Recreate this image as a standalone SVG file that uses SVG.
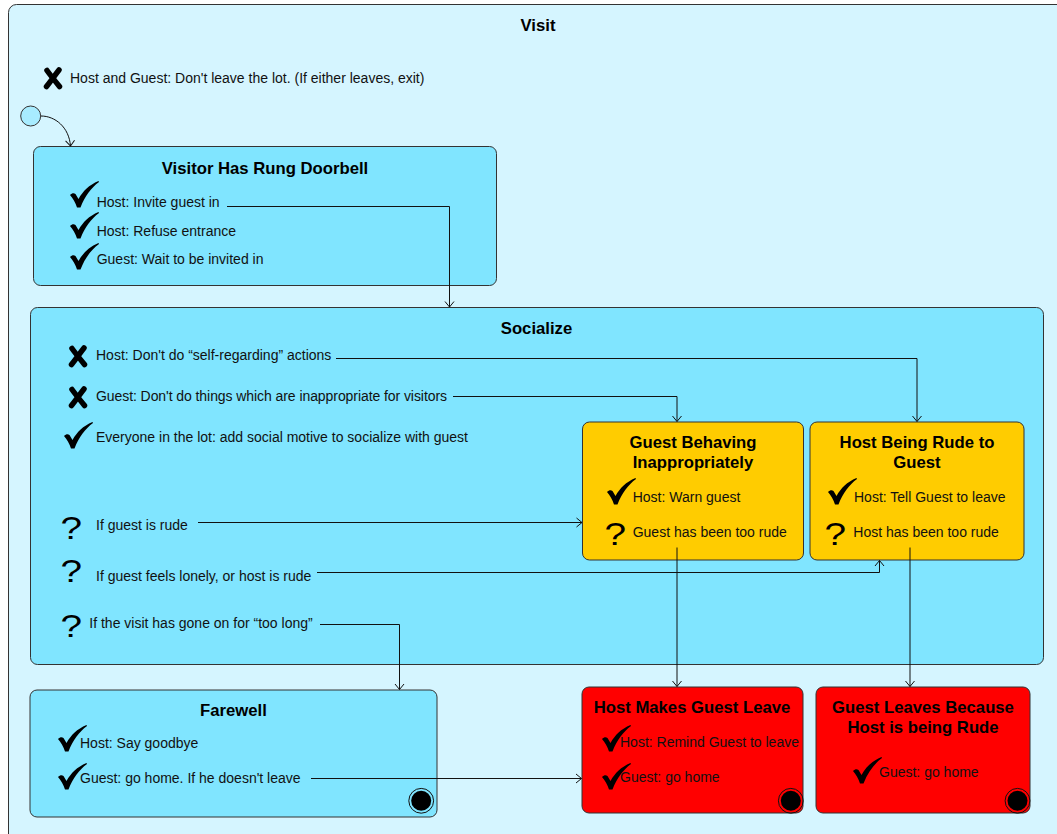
<svg xmlns="http://www.w3.org/2000/svg" xmlns:xlink="http://www.w3.org/1999/xlink" width="1057" height="834" viewBox="0 0 1057 834">
<style>
.t{font-family:"Liberation Sans",Arial,sans-serif;font-size:14px;fill:#111}
.h{font-family:"Liberation Sans",Arial,sans-serif;font-size:16.7px;font-weight:bold;fill:#000;text-anchor:middle}
.q{font-family:"Liberation Sans",Arial,sans-serif;font-size:31px;fill:#000}
.box{stroke:#333;stroke-width:1}
.blue{fill:#80e5ff}
.yel{fill:#ffcc00}
.red{fill:#ff0000}
.conn path{fill:none;stroke:#111;stroke-width:1}
</style>
<defs>
<marker id="arr" viewBox="-7 -6 8 12" refX="0" refY="0" markerWidth="8" markerHeight="12" markerUnits="userSpaceOnUse" orient="auto">
<path d="M-5.5,-4.5 L0,0 L-5.5,4.5" fill="none" stroke="#111" stroke-width="1"/>
</marker>
<symbol id="chk" viewBox="0 0 29 27" overflow="visible">
<path d="M0,14 C2,12 4,12 5.5,13 L8.5,18 C13,10 19,4 28.5,0 L29,1 C21,7 15,15 10.5,26.5 L7,26.5 C5.5,21.5 3,17.5 0,14 Z" fill="#000"/>
</symbol>
<symbol id="xx" viewBox="0 0 20 23" overflow="visible">
<path d="M4,3.5 C8,9 12,14 16.5,19.5 M16,3 C12,8 8,14 3.5,19.5" fill="none" stroke="#000" stroke-width="5.5" stroke-linecap="round"/>
</symbol>
<g id="fin">
<circle r="12.4" fill="none" stroke="#111" stroke-width="1"/>
<circle r="10" fill="#000"/>
</g>
</defs>

<g id="visit">
<rect class="box" x="8.5" y="4.5" width="1100" height="900" rx="8" fill="#d5f5ff"/>
<text class="h" x="538" y="31">Visit</text>
<use xlink:href="#xx" href="#xx" x="43" y="67" width="20" height="23"/>
<text class="t" x="70" y="83">Host and Guest: Don't leave the lot. (If either leaves, exit)</text>
</g>

<g id="initial">
<circle cx="30.7" cy="116" r="10" fill="#a8ecff" stroke="#333" stroke-width="1"/>
</g>

<g id="doorbell">
<rect class="box blue" x="33.5" y="146.5" width="463" height="139" rx="7"/>
<text class="h" x="265" y="173.5">Visitor Has Rung Doorbell</text>
<use href="#chk" x="70" y="181" width="29" height="27"/>
<text class="t" x="96.7" y="207.3">Host: Invite guest in</text>
<use href="#chk" x="70" y="212" width="29" height="27"/>
<text class="t" x="96.7" y="235.7">Host: Refuse entrance</text>
<use href="#chk" x="70" y="243" width="29" height="27"/>
<text class="t" x="96.7" y="264">Guest: Wait to be invited in</text>
</g>

<g id="socialize">
<rect class="box blue" x="30.5" y="307.5" width="1013" height="357" rx="7"/>
<text class="h" x="536.5" y="334">Socialize</text>
<use href="#xx" x="68" y="345" width="20" height="23"/>
<text class="t" x="96" y="360">Host: Don't do “self-regarding” actions</text>
<use href="#xx" x="68" y="386" width="20" height="23"/>
<text class="t" x="96" y="400.7" textLength="351" lengthAdjust="spacing">Guest: Don't do things which are inappropriate for visitors</text>
<use href="#chk" x="64" y="422" width="29" height="27"/>
<text class="t" x="96" y="441.7">Everyone in the lot: add social motive to socialize with guest</text>
<text class="q" transform="translate(60.5,539) scale(1.25,1)">?</text>
<text class="t" x="96" y="530">If guest is rude</text>
<text class="q" transform="translate(60.5,582) scale(1.25,1)">?</text>
<text class="t" x="96" y="581">If guest feels lonely, or host is rude</text>
<text class="q" transform="translate(60.5,637) scale(1.25,1)">?</text>
<text class="t" x="89.3" y="628.3">If the visit has gone on for “too long”</text>
</g>

<g id="guest-behaving">
<rect class="box yel" x="582.5" y="422" width="221" height="138" rx="7"/>
<text class="h" x="693" y="448.3">Guest Behaving</text>
<text class="h" x="693" y="468.3">Inappropriately</text>
<use href="#chk" x="607" y="478" width="29" height="27"/>
<text class="t" x="632.7" y="501.7">Host: Warn guest</text>
<text class="q" transform="translate(604.5,545) scale(1.25,1)">?</text>
<text class="t" x="632.7" y="536.7">Guest has been too rude</text>
</g>

<g id="host-rude">
<rect class="box yel" x="810" y="422" width="214" height="138" rx="7"/>
<text class="h" x="917" y="448.3">Host Being Rude to</text>
<text class="h" x="917" y="468.3">Guest</text>
<use href="#chk" x="828" y="478" width="29" height="27"/>
<text class="t" x="854" y="501.7">Host: Tell Guest to leave</text>
<text class="q" transform="translate(824.5,545) scale(1.25,1)">?</text>
<text class="t" x="853.3" y="536.7">Host has been too rude</text>
</g>

<g id="farewell">
<rect class="box blue" x="30" y="690" width="407" height="127" rx="7"/>
<text class="h" x="233.5" y="716">Farewell</text>
<use href="#chk" x="58" y="725" width="29" height="27"/>
<text class="t" x="80" y="748.3">Host: Say goodbye</text>
<use href="#chk" x="58" y="763" width="29" height="27"/>
<text class="t" x="80" y="782.7">Guest: go home. If he doesn't leave</text>
<use href="#fin" x="421.2" y="800.8"/>
</g>

<g id="host-makes-leave">
<rect class="box red" x="582" y="687" width="221" height="126" rx="7"/>
<text class="h" x="692" y="713.3">Host Makes Guest Leave</text>
<use href="#chk" x="602" y="725" width="29" height="27"/>
<text class="t" x="620" y="747.3">Host: Remind Guest to leave</text>
<use href="#chk" x="602" y="763" width="29" height="27"/>
<text class="t" x="620" y="782.3">Guest: go home</text>
<use href="#fin" x="790.8" y="800.8"/>
</g>

<g id="guest-leaves">
<rect class="box red" x="816" y="687" width="214" height="126" rx="7"/>
<text class="h" x="923" y="713.3">Guest Leaves Because</text>
<text class="h" x="923" y="733.3">Host is being Rude</text>
<use href="#chk" x="853" y="757" width="29" height="27"/>
<text class="t" x="879" y="776.7">Guest: go home</text>
<use href="#fin" x="1017.5" y="800.8"/>
</g>

<g class="conn" id="connectors">
<path d="M41,116 C55,116 69,127 70.5,146" marker-end="url(#arr)"/>
<path d="M227,206.5 H449.5 V307" marker-end="url(#arr)"/>
<path d="M336,358.5 H917 V421.5" marker-end="url(#arr)"/>
<path d="M453,396.5 H677 V421.5" marker-end="url(#arr)"/>
<path d="M198,522.5 H582" marker-end="url(#arr)"/>
<path d="M317,572.5 H879.5 V560.5" marker-end="url(#arr)"/>
<path d="M320,624.5 H399.5 V689.5" marker-end="url(#arr)"/>
<path d="M677,547.5 V686.5" marker-end="url(#arr)"/>
<path d="M910,547.5 V686.5" marker-end="url(#arr)"/>
<path d="M311,778.5 H581.5" marker-end="url(#arr)"/>
</g>
</svg>
